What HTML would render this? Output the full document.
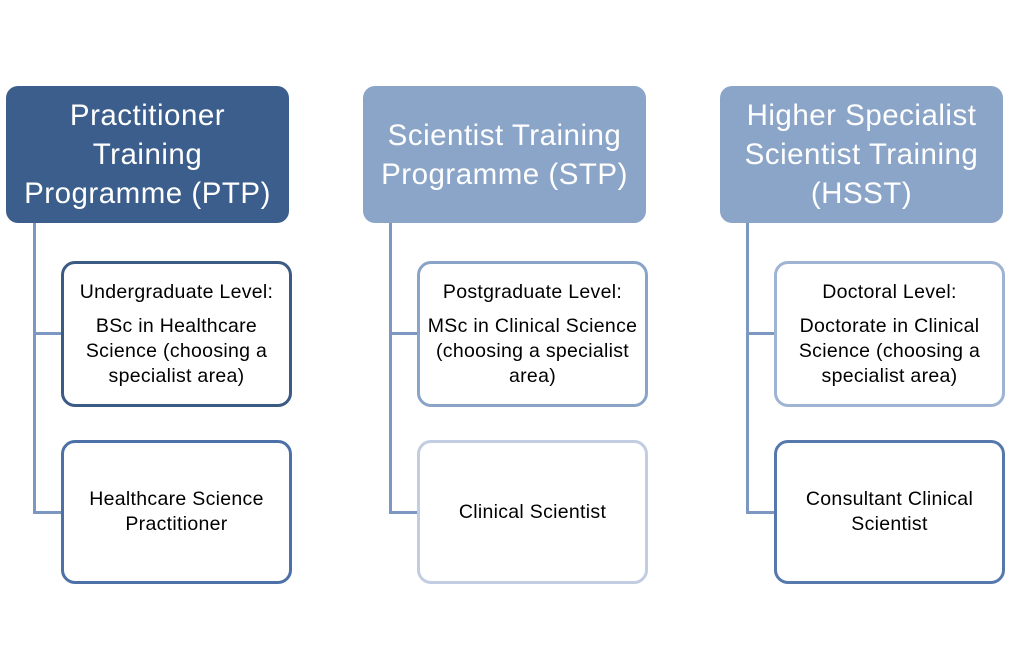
<!DOCTYPE html>
<html><head><meta charset="utf-8"><style>
body{margin:0;width:1012px;height:667px;background:#fff;position:relative;overflow:hidden;font-family:"Liberation Sans",sans-serif}
.h{position:absolute;top:86px;width:283px;height:137px;border-radius:12px;color:#fff;font-size:29.5px;letter-spacing:0.5px;line-height:39px;display:flex;align-items:center;justify-content:center;text-align:center;box-sizing:border-box;white-space:nowrap}
.c{position:absolute;width:231px;height:146px;border:3px solid;border-radius:14px;box-sizing:border-box;background:#fff;display:flex;flex-direction:column;align-items:center;justify-content:center;text-align:center;font-size:19.5px;letter-spacing:0.3px;line-height:25px;color:#000;white-space:nowrap}
.c p{margin:0}
.c p.t{margin-bottom:9px}
.v{position:absolute;width:3px;background:#7b97c2}
.hl{position:absolute;height:3px;background:#7b97c2}
</style></head><body>
<div class="h" style="left:6px;background:#3b5e8c">Practitioner<br>Training<br>Programme (PTP)</div>
<div class="h" style="left:363px;background:#8ba5c9">Scientist Training<br>Programme (STP)</div>
<div class="h" style="left:720px;background:#8ba5c9">Higher Specialist<br>Scientist Training<br>(HSST)</div>

<div class="v" style="left:33px;top:223px;height:291px"></div>
<div class="hl" style="left:33px;top:332px;width:30px"></div>
<div class="hl" style="left:33px;top:511px;width:30px"></div>
<div class="v" style="left:389px;top:223px;height:291px"></div>
<div class="hl" style="left:389px;top:332px;width:30px"></div>
<div class="hl" style="left:389px;top:511px;width:30px"></div>
<div class="v" style="left:746px;top:223px;height:291px"></div>
<div class="hl" style="left:746px;top:332px;width:30px"></div>
<div class="hl" style="left:746px;top:511px;width:30px"></div>

<div class="c" style="left:61px;top:261px;border-color:#3b5a84"><p class="t">Undergraduate Level:</p><p>BSc in Healthcare<br>Science (choosing a<br>specialist area)</p></div>
<div class="c" style="left:61px;top:440px;height:144px;border-color:#4d71a6"><p>Healthcare Science<br>Practitioner</p></div>

<div class="c" style="left:417px;top:261px;border-color:#8aa4c8"><p class="t">Postgraduate Level:</p><p>MSc in Clinical Science<br>(choosing a specialist<br>area)</p></div>
<div class="c" style="left:417px;top:440px;height:144px;border-color:#c3cde1"><p>Clinical Scientist</p></div>

<div class="c" style="left:774px;top:261px;border-color:#9fb3d2"><p class="t">Doctoral Level:</p><p>Doctorate in Clinical<br>Science (choosing a<br>specialist area)</p></div>
<div class="c" style="left:774px;top:440px;height:144px;border-color:#5678ac"><p>Consultant Clinical<br>Scientist</p></div>
</body></html>
